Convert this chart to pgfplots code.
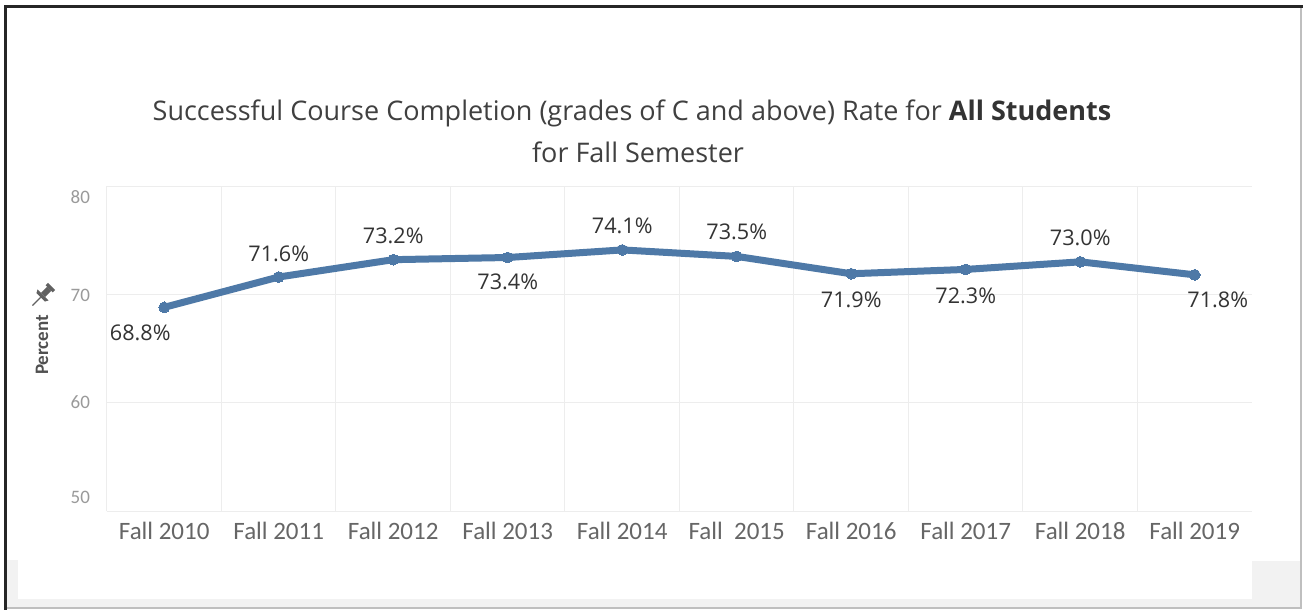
\documentclass[border=0pt]{standalone}
\usepackage{pgfplots}
\pgfplotsset{compat=1.18}
\usepackage{pgfplotstable}
\usepackage{fontspec}
\setmainfont{Carlito}
\newfontfamily\labfont{Open Sans}
\definecolor{tblue}{HTML}{4E79A7}
\definecolor{bggray}{HTML}{F2F2F2}
\definecolor{gridc}{HTML}{EDEDED}
\definecolor{tickc}{HTML}{666666}
\definecolor{ytc}{HTML}{9A9A9A}
\definecolor{titlec}{HTML}{404040}
\definecolor{labc}{HTML}{333333}
\definecolor{ptc}{HTML}{505050}
\pgfplotstableread{
x y dx dy
0 68.8 -12 -12.5
1 71.6 0 11.5
2 73.2 0 12
3 73.4 0 -12
4 74.1 0 12
5 73.5 0 12.5
6 71.9 0 -13
7 72.3 0 -13
8 73.0 0 12
9 71.8 11.5 -12.5
}\data
\begin{document}
\begin{tikzpicture}
\fill[white] (0,0) rectangle (651.5pt,-305pt);
\fill[bggray] (3.5pt,-299.5pt) rectangle (650.5pt,-304pt);
\fill[bggray] (3.5pt,-280pt) rectangle (9pt,-299.5pt);
\fill[bggray] (626pt,-280.5pt) rectangle (650.5pt,-299.5pt);
\draw[black!25, line width=0.6pt] (650.5pt,-3.5pt) -- (650.5pt,-304pt) -- (2.5pt,-304pt);
\draw[black!85, line width=1.5pt] (2.5pt,-305pt) -- (2.5pt,-3.5pt) -- (651.5pt,-3.5pt);
\begin{axis}[
  at={(53.5pt,-255.5pt)}, anchor=south west,
  scale only axis, width=572.5pt, height=162.5pt,
  xmin=-0.5, xmax=9.5, ymin=50, ymax=80,
  axis line style={draw=none},
  xtick={0,...,9},
  xticklabels={Fall 2010, Fall 2011, Fall 2012, Fall 2013, Fall 2014, Fall\ \ 2015, Fall 2016, Fall 2017, Fall 2018, Fall 2019},
  minor xtick={-0.5,0.5,...,8.5},
  xminorgrids,
  minor grid style={gridc, line width=0.5pt},
  ytick={50,60,70,80}, yticklabels={},
  ymajorgrids, major grid style={gridc, line width=0.5pt},
  major tick length=0pt, minor tick length=0pt,
  xticklabel style={font=\fontsize{12.5}{14}\selectfont, text=tickc, anchor=center, yshift=-10pt},
  clip=false,
]
\addplot[tblue, line width=3.5pt, line join=round, mark=*, mark size=2.7pt,
  mark options={fill=tblue, draw=tblue, line width=0pt},
  nodes near coords={\pgfmathprintnumber[fixed,fixed zerofill,precision=1,assume math mode=true]{\pgfplotspointmeta}\%},
  point meta=explicit,
  visualization depends on={\thisrow{dx}\as\dx},
  visualization depends on={\thisrow{dy}\as\dy},
  every node near coord/.append style={anchor=center, xshift=\dx pt, yshift=\dy pt, font=\labfont\fontsize{10.8}{12}\selectfont, text=labc},
] table[x=x,y=y,meta=y]{\data};
\end{axis}
\node[anchor=east, font=\fontsize{9.5}{11}\selectfont, text=ytc] at (48.5pt,-98.5pt) {80};
\node[anchor=east, font=\fontsize{9.5}{11}\selectfont, text=ytc] at (48.5pt,-147.5pt) {70};
\node[anchor=east, font=\fontsize{9.5}{11}\selectfont, text=ytc] at (48.5pt,-201pt) {60};
\node[anchor=east, font=\fontsize{9.5}{11}\selectfont, text=ytc] at (48.5pt,-248.5pt) {50};
\node[font=\labfont\fontsize{13.5}{16}\selectfont, text=titlec] at (316pt,-56.5pt) {Successful Course Completion (grades of C and above) Rate for {\bfseries\color{labc}All Students}};
\node[font=\labfont\fontsize{13.5}{16}\selectfont, text=titlec] at (319pt,-76pt) {for Fall Semester};
\node[rotate=90, font=\bfseries\fontsize{9.5}{11}\selectfont, text=ptc] at (21pt,-172.5pt) {Percent};
\begin{scope}[shift={(21pt,-148pt)}, rotate=-45, scale=1.5, fill=ptc!90]
\fill (-1.7pt,4.5pt) rectangle (1.7pt,3.4pt);
\fill (-1pt,3.4pt) rectangle (1pt,0.5pt);
\fill (-2.6pt,0.5pt) -- (2.6pt,0.5pt) -- (2pt,-0.6pt) -- (-2pt,-0.6pt) -- cycle;
\draw[ptc!90, line width=0.6pt] (0,-0.6pt) -- (0,-4.5pt);
\end{scope}
\pgfresetboundingbox
\useasboundingbox (0,0) rectangle (651.5pt,-305pt);
\end{tikzpicture}
\end{document}
